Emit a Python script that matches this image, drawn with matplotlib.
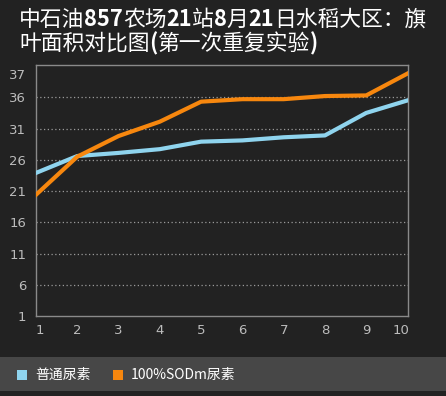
import matplotlib
matplotlib.use("Agg")
import matplotlib.pyplot as plt
from matplotlib.patches import Rectangle
from matplotlib.transforms import ScaledTranslation

# ---- data ----
x_vals = [1, 2, 3, 4, 5, 6, 7, 8, 9, 10]
series_names = ["普通尿素", "100%SODm尿素"]
normal_urea = [23.9, 26.6, 27.1, 27.7, 28.9, 29.1, 29.6, 29.9, 33.5, 35.5]
sodm_urea = [20.4, 26.5, 29.8, 32.1, 35.3, 35.7, 35.7, 36.2, 36.3, 39.8]
grid_vals = [6, 11, 16, 21, 26, 31, 36]
ytick_vals = [1, 6, 11, 16, 21, 26, 31, 36, 39.7]
ytick_labels = ["1", "6", "11", "16", "21", "26", "31", "36", "37"]
title_line1 = [("中石油", "normal"), ("857", "bold"), ("农场", "normal"), ("21", "bold"),
               ("站", "normal"), ("8", "bold"), ("月", "normal"), ("21", "bold"),
               ("日水稻大区：旗", "normal")]
title_line2 = [("叶面积对比图", "normal"), ("(", "bold"), ("第一次重复实验", "normal"), (")", "bold")]

colors = ["#8fd4ee", "#f7870e"]
BG = "#222222"
W, H = 446, 396

plt.rcParams['font.family'] = ['Noto Sans CJK SC', 'DejaVu Sans']

fig = plt.figure(figsize=(W / 100, H / 100), dpi=100, facecolor=BG)
left, right, top, bottom = 36, 407.5, 65.3, 316
ax = fig.add_axes([left / W, 1 - bottom / H, (right - left) / W, (bottom - top) / H])
ax.set_facecolor(BG)

for v in grid_vals:
    ax.axhline(v, color="#9a9a9a", lw=0.9, ls=(0, (1, 2)), zorder=1)

ax.plot(x_vals, normal_urea, color=colors[0], lw=3.0, zorder=3, solid_joinstyle="round")
ax.plot(x_vals, sodm_urea, color=colors[1], lw=3.0, zorder=4, solid_joinstyle="round")

ax.set_xlim(1, 10)
ax.set_ylim(1, 41.12)
ax.set_xticks(x_vals)
ax.set_xticklabels([str(v) for v in x_vals])
ax.set_yticks(ytick_vals)
ax.set_yticklabels(ytick_labels)
ax.tick_params(axis="both", length=0, colors="#bcbcbc", labelsize=9.5)
ax.tick_params(axis="y", pad=7)
ax.tick_params(axis="x", pad=6)
for lab in ax.get_xticklabels() + ax.get_yticklabels():
    lab.set_family(["DejaVu Sans"])
xl = ax.get_xticklabels()
xl[0].set_transform(xl[0].get_transform() + ScaledTranslation(4 / 100, 0, fig.dpi_scale_trans))
xl[-1].set_transform(xl[-1].get_transform() + ScaledTranslation(-6 / 100, 0, fig.dpi_scale_trans))
for s in ax.spines.values():
    s.set_color("#8a8a8a")
    s.set_linewidth(1.0)

# legend band
fig.patches.append(Rectangle((0, 1 - 390.7 / H), 1, (390.7 - 356.7) / H,
                             transform=fig.transFigure, facecolor="#474747",
                             edgecolor="none", zorder=0))
leg_y = 1 - 375 / H
sq = [17, 113]
tx = [35, 131]
for i in range(2):
    fig.patches.append(Rectangle((sq[i] / W, 1 - 380 / H), 10 / W, 10 / H,
                                 transform=fig.transFigure, facecolor=colors[i],
                                 edgecolor="none", zorder=2))
    fig.text(tx[i] / W, leg_y, series_names[i], color="white", fontsize=10,
             va="center", ha="left")

# title with mixed weights
fig.canvas.draw()
renderer = fig.canvas.get_renderer()


def draw_line(parts, x0, ybase):
    x = x0
    for txt, wt in parts:
        t = fig.text(x / W, 1 - ybase / H, txt, color="white", fontsize=15.7,
                     fontweight=wt, va="baseline", ha="left")
        bb = t.get_window_extent(renderer)
        x += bb.width


draw_line(title_line1, 19, 26)
draw_line(title_line2, 19, 50)

fig.savefig("out.png", dpi=100, facecolor=BG)
